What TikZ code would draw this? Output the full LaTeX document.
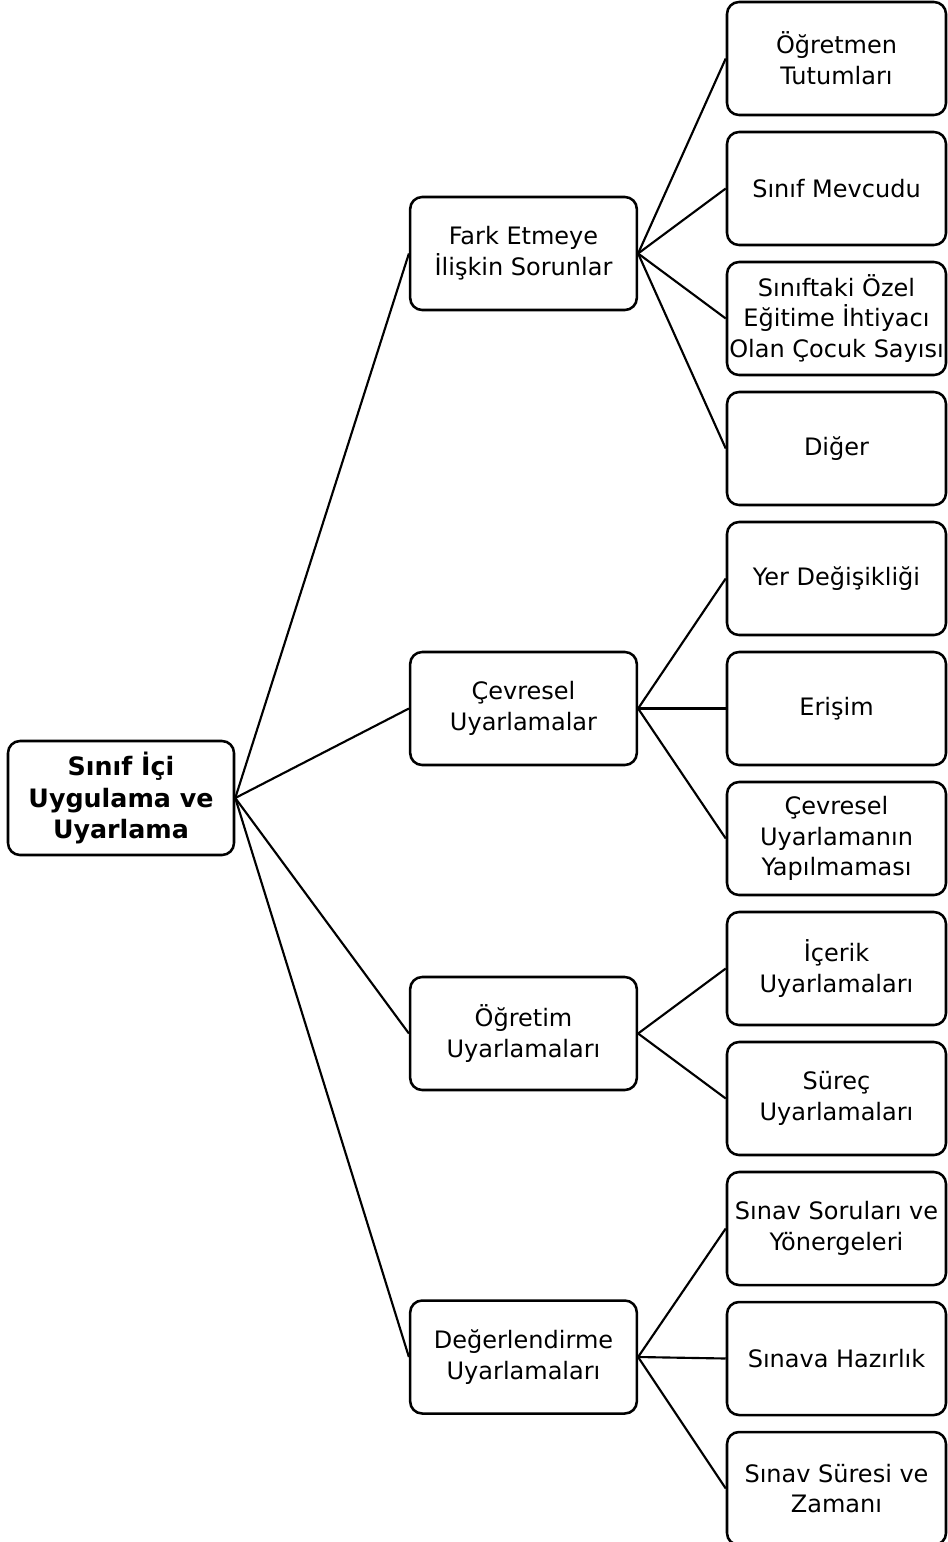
\documentclass[tikz,border=0pt]{standalone}
\usepackage{fontspec}
\setmainfont{DejaVu Sans}
\begin{document}
\begin{tikzpicture}[x=0.75pt,y=-0.75pt,
  box/.style={draw, line width=1.9pt, rounded corners=9pt, align=center,
    inner sep=0pt, font=\fontsize{18}{23}\selectfont},
  rootbox/.style={box, minimum width=169.5pt, minimum height=85.5pt,
    font=\fontsize{19}{23.5}\selectfont\bfseries},
  midbox/.style={box, minimum width=170pt, minimum height=84.75pt},
  leafbox/.style={box, minimum width=164.25pt, minimum height=84.75pt},
  link/.style={line width=1.6pt}]
\useasboundingbox (0,0) rectangle (947,1542);

% root
\node[rootbox] (root) at (121,798) {Sınıf İçi\\Uygulama ve\\Uyarlama};

% second level
\node[midbox] (fark) at (523.5,253.5) {Fark Etmeye\\İlişkin Sorunlar};
\node[midbox] (cevre) at (523.5,708.5) {Çevresel\\Uyarlamalar};
\node[midbox] (ogret) at (523.5,1033.5) {Öğretim\\Uyarlamaları};
\node[midbox] (deger) at (523.5,1357) {Değerlendirme\\Uyarlamaları};

% leaves
\node[leafbox] (l1) at (836.5,58.5) {Öğretmen\\Tutumları};
\node[leafbox] (l2) at (836.5,188.5) {Sınıf Mevcudu};
\node[leafbox] (l3) at (836.5,318.5) {Sınıftaki Özel\\Eğitime İhtiyacı\\Olan Çocuk Sayısı};
\node[leafbox] (l4) at (836.5,448.5) {Diğer};
\node[leafbox] (l5) at (836.5,578.5) {Yer Değişikliği};
\node[leafbox] (l6) at (836.5,708.5) {Erişim};
\node[leafbox] (l7) at (836.5,838.5) {Çevresel\\Uyarlamanın\\Yapılmaması};
\node[leafbox] (l8) at (836.5,968.5) {İçerik\\Uyarlamaları};
\node[leafbox] (l9) at (836.5,1098.5) {Süreç\\Uyarlamaları};
\node[leafbox] (l10) at (836.5,1228.5) {Sınav Soruları ve\\Yönergeleri};
\node[leafbox] (l11) at (836.5,1358.5) {Sınava Hazırlık};
\node[leafbox] (l12) at (836.5,1488.5) {Sınav Süresi ve\\Zamanı};

% connectors
\foreach \m in {fark,cevre,ogret,deger}
  \draw[link] (root.east) -- (\m.west);
\foreach \l in {l1,l2,l3,l4}
  \draw[link] (fark.east) -- (\l.west);
\foreach \l in {l5,l6,l7}
  \draw[link] (cevre.east) -- (\l.west);
\foreach \l in {l8,l9}
  \draw[link] (ogret.east) -- (\l.west);
\foreach \l in {l10,l11,l12}
  \draw[link] (deger.east) -- (\l.west);
\end{tikzpicture}
\end{document}
